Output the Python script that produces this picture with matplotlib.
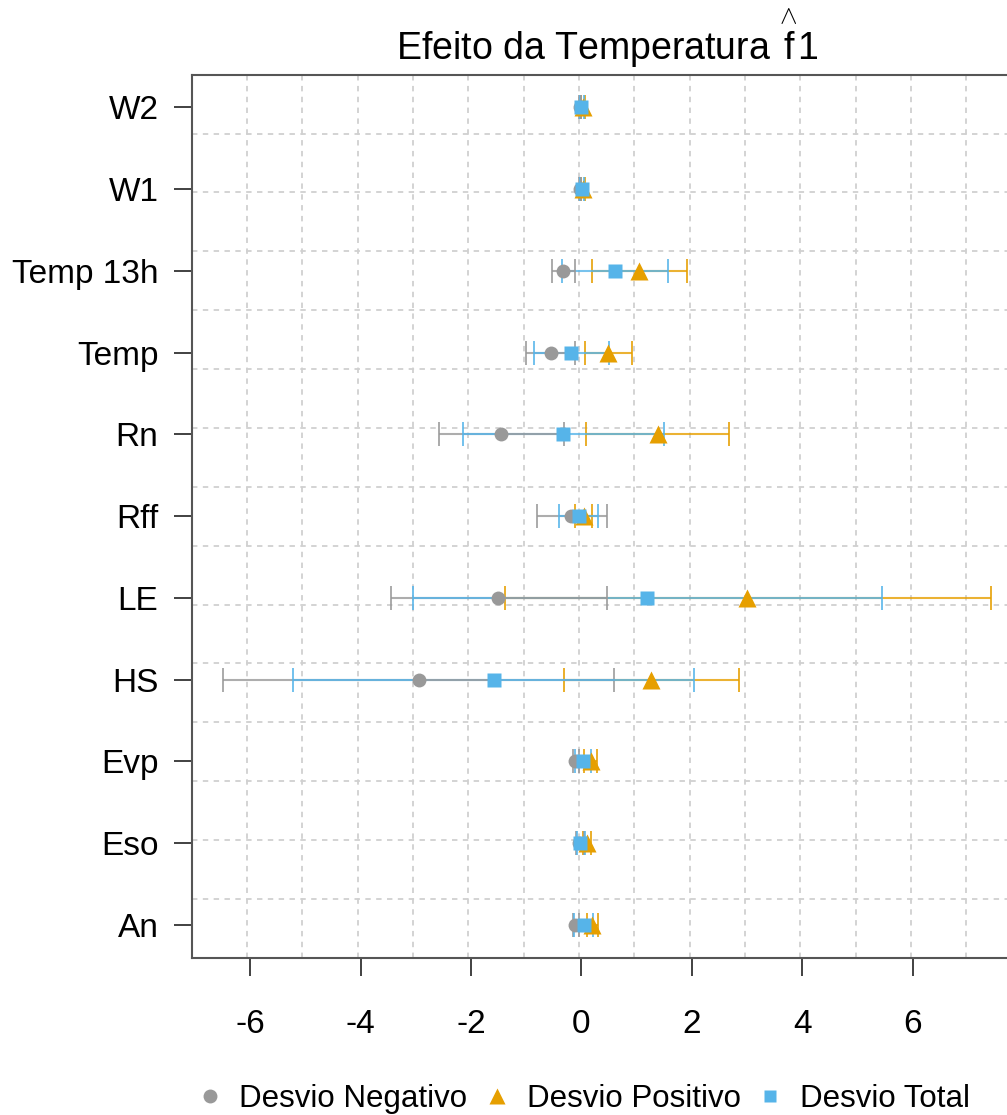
import numpy as np
import matplotlib
matplotlib.use("Agg")
import matplotlib.pyplot as plt
from matplotlib.lines import Line2D

plt.rcParams["font.family"] = ["Liberation Sans", "DejaVu Sans"]
plt.rcParams["mathtext.fontset"] = "custom"
plt.rcParams["mathtext.rm"] = "Liberation Sans"
plt.rcParams["mathtext.it"] = "Liberation Sans:italic"
plt.rcParams["mathtext.sf"] = "Liberation Sans"

# Variables (bottom to top)
variables = ["An", "Eso", "Evp", "HS", "LE", "Rff", "Rn", "Temp", "Temp 13h", "W1", "W2"]

# Negative deviation: estimate and interval
neg_est = [-0.12, -0.05, -0.11, -2.94, -1.51, -0.18, -1.45, -0.55, -0.33, -0.02, -0.02]
neg_lo  = [-0.16, -0.10, -0.16, -6.50, -3.44, -0.80, -2.58, -1.01, -0.53, -0.04, -0.04]
neg_hi  = [-0.05,  0.04, -0.04,  0.60,  0.46,  0.46, -0.31, -0.11, -0.12,  0.00,  0.00]

# Positive deviation
pos_est = [0.20, 0.10, 0.18, 1.27, 3.01, 0.04, 1.38, 0.49, 1.05, 0.03, 0.03]
pos_lo  = [0.10, 0.03, 0.05, -0.31, -1.38, -0.11, 0.09, 0.07, 0.19, 0.00, 0.00]
pos_hi  = [0.30, 0.17, 0.28, 2.85, 7.42, 0.19, 2.67, 0.92, 1.91, 0.06, 0.06]

# Total deviation
tot_est = [0.04, -0.02, 0.03, -1.58, 1.19, -0.05, -0.33, -0.18, 0.61, 0.01, 0.00]
tot_lo  = [-0.13, -0.08, -0.12, -5.23, -3.05, -0.41, -2.15, -0.86, -0.35, -0.02, -0.03]
tot_hi  = [0.21, 0.06, 0.18, 2.05, 5.44, 0.31, 1.49, 0.51, 1.57, 0.05, 0.04]

x_ticks = [-6, -4, -2, 0, 2, 4, 6]
series_names = ["Desvio Negativo", "Desvio Positivo", "Desvio Total"]

GREY = "#999999"
ORANGE = "#E69F00"
BLUE = "#56B4E9"

W, H, DPI = 1007, 1115, 100
fig = plt.figure(figsize=(W / DPI, H / DPI), dpi=DPI)

# Axis limits with 4% padding around the data range
y = np.arange(1, len(variables) + 1)
all_lo = min(min(neg_lo), min(pos_lo), min(tot_lo))
all_hi = max(max(neg_hi), max(pos_hi), max(tot_hi))
pad = 0.04 * (all_hi - all_lo)
xlim = (all_lo - pad, all_hi + pad)
ylim = (1 - 0.04 * (len(variables) - 1), len(variables) + 0.04 * (len(variables) - 1))

left_px, px_per_unit = 191.8, 55.2
ax_w = (xlim[1] - xlim[0]) * px_per_unit / W
ax = fig.add_axes([left_px / W, 1 - 957.7 / H, ax_w, (957.7 - 74.7) / H])
ax.set_xlim(*xlim)
ax.set_ylim(*ylim)

# Evenly spaced dashed grid (15 cells each way)
for k in range(1, 15):
    gx = xlim[0] + k * (xlim[1] - xlim[0]) / 15
    gy = ylim[0] + k * (ylim[1] - ylim[0]) / 15
    ax.axvline(gx, color="#D0D0D0", lw=1.3, ls=(0, (3, 3)), zorder=0)
    ax.axhline(gy, color="#D0D0D0", lw=1.3, ls=(0, (3, 3)), zorder=0)

series = [
    (neg_est, neg_lo, neg_hi, GREY),
    (pos_est, pos_lo, pos_hi, ORANGE),
    (tot_est, tot_lo, tot_hi, BLUE),
]

# Interval arms drawn from the estimate outward: lower arms first, then upper arms
z = 2
for side in ("lo", "hi"):
    for est, lo, hi, col in series:
        ends = lo if side == "lo" else hi
        ax.hlines(y, est, ends, color=col, lw=1.5, alpha=0.8, zorder=z)
        ax.plot(ends, y, ls="none", marker="|", ms=17, mew=1.3,
                color=col, alpha=0.9, zorder=z)
        z += 0.1

ax.plot(neg_est, y, ls="none", marker="o", ms=10, color=GREY, mec="none", zorder=5)
ax.plot(pos_est, y, ls="none", marker="^", ms=12.5, color=ORANGE, mec="none", zorder=5.1)
ax.plot(tot_est, y, ls="none", marker="s", ms=10, color=BLUE, mec="none", zorder=5.2)

ax.set_yticks(y)
ax.set_yticklabels(variables)
ax.set_xticks(x_ticks)
ax.set_xticklabels([str(v) for v in x_ticks])
ax.tick_params(axis="y", labelsize=24, length=13, width=1.3, pad=11, color="#333333")
ax.tick_params(axis="x", labelsize=24, length=13, width=1.3, pad=24, color="#333333")

for s in ("left", "top", "bottom"):
    ax.spines[s].set_color("#555555")
    ax.spines[s].set_linewidth(1.5)
ax.spines["right"].set_visible(False)

# Title: single text with a hat set over the "f"
title_x = (left_px + (xlim[1] - xlim[0]) * px_per_unit / 2) / W
fig.text(title_x, 1 - 60 / H,
         r"Efeito da Temperatura $\overset{\wedge}{\mathrm{f}}\mathrm{1}$",
         ha="center", va="baseline", fontsize=27)

handles = [
    Line2D([], [], ls="none", marker="o", ms=10, color=GREY, mec="none"),
    Line2D([], [], ls="none", marker="^", ms=11, color=ORANGE, mec="none"),
    Line2D([], [], ls="none", marker="s", ms=9, color=BLUE, mec="none"),
]
fig.legend(handles, series_names, loc="center", ncol=3, frameon=False,
           fontsize=22.5, bbox_to_anchor=(0.578, 1 - 1099 / H),
           handlelength=1.0, handletextpad=0.45, columnspacing=0.45,
           borderpad=0, borderaxespad=0)

fig.savefig("out.png", dpi=DPI)
